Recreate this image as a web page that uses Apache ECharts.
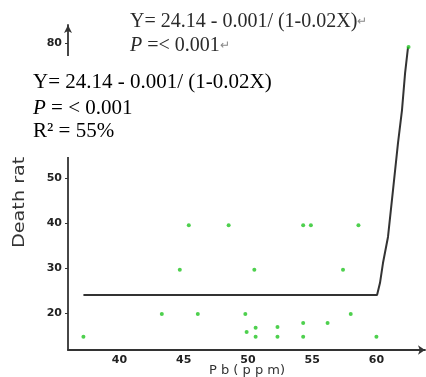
<!DOCTYPE html>
<html>
<head>
<meta charset="utf-8">
<script src="https://cdn.jsdelivr.net/npm/echarts@6/dist/echarts.min.js"></script>
<style>html,body{margin:0;padding:0;background:#fff;}#c{width:426px;height:377px;}</style>
</head>
<body>
<div id="c"></div>
<script>
// Data
var pbValues = [45.4, 48.5, 54.3, 54.9, 58.6, 44.7, 50.5, 57.4, 37.2, 43.3, 46.1, 49.8, 58.0, 49.9, 50.6, 50.6, 52.3, 52.3, 54.3, 54.3, 56.2, 60.0, 62.5];
var deathRates = [39.5, 39.5, 39.5, 39.5, 39.5, 29.6, 29.6, 29.6, 14.7, 19.8, 19.8, 19.8, 19.8, 15.8, 16.7, 14.7, 16.9, 14.7, 17.8, 14.7, 17.8, 14.7, 79.1];
var fitX = [37.2, 60.05, 60.28, 60.51, 60.90, 61.29, 61.68, 61.99, 62.23, 62.46];
var fitY = [24.0, 24.0, 26.7, 31.1, 36.9, 47.3, 57.8, 65.1, 73.3, 79.1];
var xTickLabels = [40, 45, 50, 55, 60];
var yTickLabels = [20, 30, 40, 50, 60, 70, 80];
var xAxisTitle = 'P b ( p p m)';
var yAxisTitle = 'Death rate';
var eqText = 'Y= 24.14 - 0.001/ (1-0.02X)';
var pText = ' = < 0.001';
var r2Text = 'R² = 55%';

var scatterData = pbValues.map(function (x, i) { return [x, deathRates[i]]; });
var fitData = fitX.map(function (x, i) { return [x, fitY[i]]; });

var chart = echarts.init(document.getElementById('c'), null, {renderer: 'canvas'});
var tickFont = {fontFamily: 'DejaVu Sans', fontSize: 11, fontWeight: 'bold', color: '#222'};
var serif = 'Liberation Serif';
chart.setOption({
  animation: false,
  backgroundColor: '#fff',
  grid: {left: 68, right: 1, top: 25, bottom: 27, containLabel: false, outerBoundsMode: 'none'},
  xAxis: {
    type: 'value', min: 36, max: 63.78,
    splitLine: {show: false},
    axisLine: {lineStyle: {color: '#333', width: 1.8}, symbol: ['none', 'arrow'], symbolSize: [7, 7]},
    axisTick: {show: false},
    axisLabel: Object.assign({margin: 5, customValues: xTickLabels}, tickFont)
  },
  yAxis: {
    type: 'value', min: 11.78, max: 84,
    splitLine: {show: false},
    axisLine: {lineStyle: {color: '#333', width: 1.8}, symbol: ['none', 'arrow'], symbolSize: [6, 8]},
    axisTick: {show: true, length: 3, customValues: yTickLabels, lineStyle: {color: '#333'}},
    axisLabel: Object.assign({margin: 6, customValues: yTickLabels}, tickFont)
  },
  series: [
    {
      type: 'line', data: fitData, showSymbol: false, symbol: 'none', smooth: false,
      lineStyle: {color: '#333', width: 2}, z: 2
    },
    {
      type: 'scatter', data: scatterData, symbol: 'circle', symbolSize: 4,
      itemStyle: {color: '#22c422'}, z: 3
    }
  ],
  graphic: [
    {type: 'text', x: 19.5, y: 248, rotation: Math.PI / 2, scaleX: 1.2, z: 50,
      style: {text: yAxisTitle, font: '16px "DejaVu Sans"', fill: '#333', textAlign: 'left', textVerticalAlign: 'middle'}},
    {type: 'text', x: 247, y: 371, z: 50,
      style: {text: xAxisTitle, font: '13px "DejaVu Sans"', fill: '#333', textAlign: 'center', textVerticalAlign: 'middle'}},
    {type: 'rect', shape: {x: 0, y: 56, width: 300, height: 101}, z: 100, style: {fill: '#fff'}},
    {type: 'text', x: 130, y: 22, z: 101,
      style: {text: eqText + '{m|↵}', font: '20px "' + serif + '"', fill: '#2a2a2a', textAlign: 'left', textVerticalAlign: 'middle',
        rich: {m: {fontSize: 12, fontFamily: serif, fill: '#888'}}}},
    {type: 'text', x: 130, y: 46, z: 101,
      style: {text: '{i|P}' + ' =< 0.001' + '{m|↵}', font: '20px "' + serif + '"', fill: '#2a2a2a', textAlign: 'left', textVerticalAlign: 'middle',
        rich: {i: {fontStyle: 'italic', fontSize: 20, fontFamily: serif, fill: '#2a2a2a'}, m: {fontSize: 12, fontFamily: serif, fill: '#888'}}}},
    {type: 'text', x: 33, y: 82, z: 101,
      style: {text: eqText, font: '21px "' + serif + '"', fill: '#000', textAlign: 'left', textVerticalAlign: 'middle'}},
    {type: 'text', x: 33, y: 108, z: 101,
      style: {text: '{i|P}' + pText, font: '21px "' + serif + '"', fill: '#000', textAlign: 'left', textVerticalAlign: 'middle',
        rich: {i: {fontStyle: 'italic', fontSize: 21, fontFamily: serif, fill: '#000'}}}},
    {type: 'text', x: 33, y: 131, z: 101,
      style: {text: r2Text, font: '21px "' + serif + '"', fill: '#000', textAlign: 'left', textVerticalAlign: 'middle'}}
  ]
});
</script>
</body>
</html>
